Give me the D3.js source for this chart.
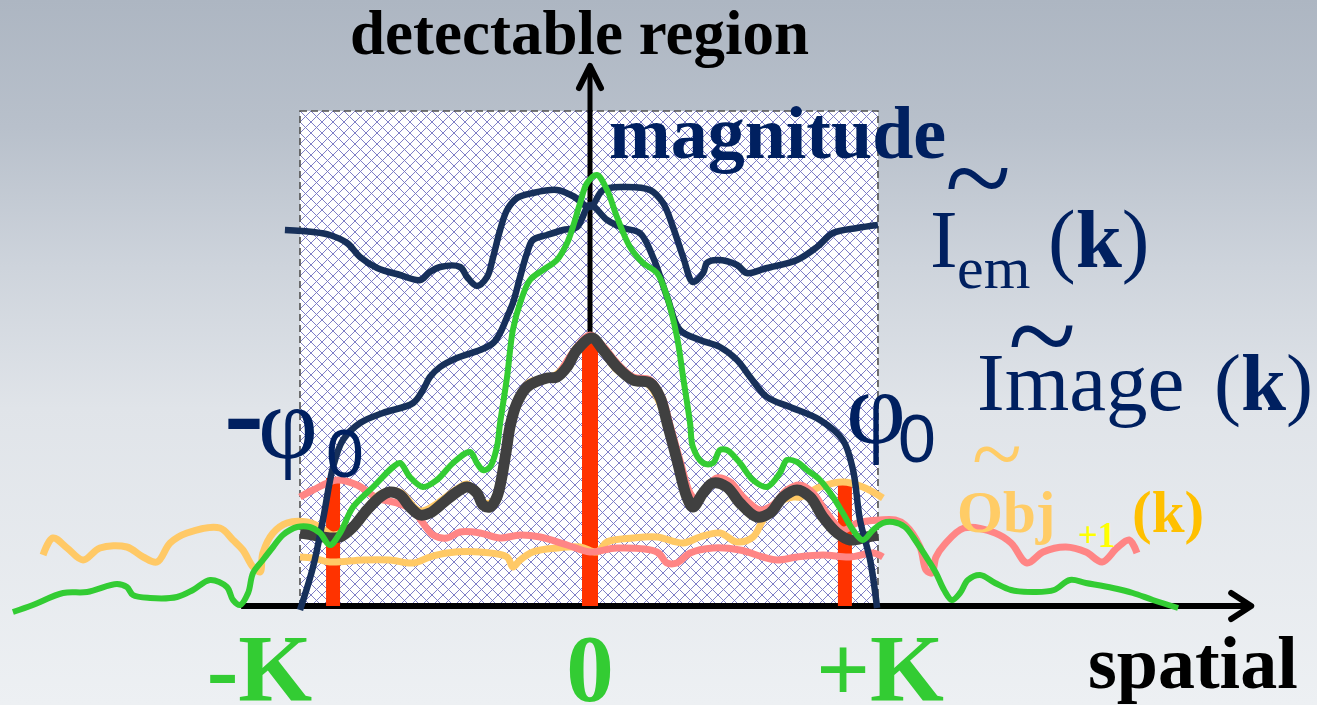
<!DOCTYPE html>
<html><head><meta charset="utf-8">
<script src="https://cdn.jsdelivr.net/npm/d3@7"></script>
<style>html,body{margin:0;padding:0;overflow:hidden;background:#e6e9ee}</style>
</head><body><svg id="c" width="1317" height="705"></svg>
<script>
// ---- data (spatial frequency in units of K = 100, magnitude 0..100) ----
const xTickValues = [-114, 0, 100];
const xTickLabels = ["-K", "0", "+K"];
const deltaPos = [-88.6, 0, 87.9];       // red delta peaks (-φ0, 0, φ0)
const deltaMag = [25.6, 53.2, 24.2];

const iEm = [[-105.2,75.2],[-95.5,74.8],[-89.7,74.2],[-83.8,72.6],[-79.3,69.8],[-73.4,67.6],[-65.5,66.2],[-58.6,65.2],[-55.2,66.8],[-51.7,67.8],[-44.8,67.8],[-42.4,65.8],[-39.0,64.0],[-35.5,65.8],[-33.4,69.8],[-31.0,75.2],[-28.6,79.2],[-25.2,81.6],[-19.7,82.6],[-11.4,83.2],[-5.9,82.0],[0,79.8],[4.5,83.2],[11.4,83.8],[20.7,83.2],[25.2,80.6],[28.6,75.8],[32.1,69.8],[35.5,64.8],[39.0,66.6],[40.3,68.6],[43.8,69.2],[50.7,68.2],[54.1,66.6],[61.0,67.6],[71.4,69.2],[78.3,71.8],[83.8,74.6],[92.1,75.6],[99.3,76.2]];

const imageK = [[-100,-0.8],[-95.5,7.8],[-92.1,17.2],[-88.6,27.8],[-85.2,33.2],[-79.3,36.6],[-71.4,38.6],[-61.0,40.6],[-57.6,43.2],[-55.2,45.8],[-51.7,47.8],[-45.9,49.6],[-37.9,51.2],[-33.4,52.6],[-31.0,54.6],[-28.6,57.8],[-26.6,60.6],[-24.1,65.8],[-21.7,70.6],[-19.7,73.2],[-14.8,74.2],[-9.3,75.2],[-4.5,75.8],[0,80.2],[5.9,77.2],[11.4,75.6],[17.2,74.6],[21.7,69.8],[26.6,61.8],[31.0,55.2],[37.9,53.2],[44.8,51.8],[50.7,49.2],[55.2,45.8],[61.0,41.8],[69.0,39.8],[79.3,37.2],[87.2,33.2],[90.7,27.2],[93.1,17.2],[96.6,9.2],[99.0,-0.4]];

const objGreen = [[-199.0,-1.2],[-192.1,0.2],[-181.7,2.6],[-173.4,2.8],[-163.1,4.4],[-159.7,3.8],[-157.6,2.2],[-151.7,1.6],[-142.4,1.8],[-136.9,3.2],[-131.0,5.2],[-125.2,3.8],[-123.1,1.2],[-120.7,0.2],[-117.9,2.6],[-116.2,6.6],[-112.8,9.2],[-109.3,11.8],[-105.9,14.2],[-101.0,15.8],[-96.6,15.8],[-93.1,14.6],[-89.7,12.2],[-86.2,14.6],[-81.7,19.8],[-74.8,23.8],[-67.9,27.8],[-65.5,28.6],[-62.1,25.8],[-57.6,23.8],[-52.8,25.2],[-47.2,28.6],[-41.4,30.8],[-39.0,28.6],[-36.9,27.2],[-34.5,27.8],[-32.1,31.8],[-31.0,36.6],[-28.6,45.8],[-26.6,55.2],[-24.1,60.6],[-20.7,65.2],[-16.2,67.2],[-11.4,69.2],[-7.9,72.6],[-5.9,75.8],[-3.4,80.6],[-1.0,84.6],[2.4,86.2],[5.9,83.2],[9.3,77.8],[13.8,71.8],[18.3,68.6],[23.1,66.6],[26.6,61.8],[30.0,53.8],[32.1,45.8],[34.5,36.6],[35.5,31.8],[39.0,28.6],[42.4,28.6],[44.8,31.2],[47.2,31.2],[51.7,28.6],[56.2,25.2],[61.0,23.8],[65.5,26.6],[67.9,29.2],[71.4,28.8],[74.8,27.2],[79.3,25.2],[83.8,21.8],[87.2,18.6],[90.7,15.2],[94.1,13.2],[97.6,15.2],[101.0,16.6],[104.5,16.8],[108.6,15.8],[112.8,12.6],[116.6,9.2],[119.3,6.6],[122.1,3.2],[124.8,1.2],[127.6,2.6],[130.3,5.2],[134.5,6.2],[139.7,4.6],[145.2,3.2],[153.4,2.8],[160.0,3.2],[165.5,5.2],[171.0,4.6],[180.3,3.6],[187.2,2.6],[194.1,1.2],[202.8,-0.4]];

const objOrangeA = [[-188.6,10.2],[-185.2,13.6],[-180.3,11.6],[-174.8,9.2],[-169.0,11.6],[-159.7,11.8],[-154.1,9.8],[-149.3,8.8],[-144.8,12.6],[-139.0,14.6],[-127.6,15.6],[-123.1,13.2],[-119.7,11.2],[-116.2,7.8],[-113.8,6.8],[-112.8,10.6],[-109.3,14.6],[-104.5,16.6],[-97.6,16.8],[-93.1,15.8],[-88.6,14.2],[-81.7,16.2],[-72.4,22.4],[-65.5,22.8],[-58.6,19.0],[-45.9,23.4],[-42.4,24.4],[-36.9,20.8],[-34.5,20.6],[-32.1,22.2],[-27.6,36.4],[-21.7,44.4],[-11.4,46.4],[-4.5,51.8],[0.7,54.0],[9.3,47.2],[20.7,44.0],[26.6,36.2]];

const objOrangeB = [[-100,9.8],[-95.5,9.6],[-89.7,8.8],[-78.3,9.2],[-69.0,9.2],[-61.0,8.6],[-55.2,9.8],[-49.3,10.6],[-37.9,10.8],[-28.6,9.8],[-26.6,7.8],[-24.1,9.2],[-19.7,10.8],[-11.4,11.6],[-3.4,11.8],[2.4,10.8],[5.9,12.8],[14.8,13.6],[23.1,13.8],[32.1,12.6],[37.9,13.8],[44.8,14.6],[50.7,12.8],[56.2,13.8],[59.7,17.2],[64.5,20.6],[70.0,21.8],[72.4,21.8],[79.3,23.8],[87.2,24.8],[94.1,23.8],[101.0,21.6]];

const objPinkA = [[-100,21.8],[-95.5,23.2],[-87.2,25.2],[-80.3,24.2],[-73.4,21.6],[-66.6,20.6],[-61.0,19.2],[-57.6,16.6],[-54.1,14.2],[-49.3,13.6],[-44.8,14.8],[-37.9,14.6],[-31.0,13.6],[-24.1,14.2],[-17.2,13.8],[-7.9,12.2],[0,10.8],[9.3,11.6],[23.1,10.8],[26.6,8.6],[30.0,8.6],[34.5,10.6],[42.4,11.6],[51.7,11.2],[59.7,9.8],[64.5,9.2],[71.4,9.8],[80.3,10.2],[89.7,9.8],[97.6,10.6],[101.0,9.8]];

const objPinkB = [[-10.3,46.8],[-4.5,51.8],[0,54.2],[4.5,52.0],[9.3,48.6],[14.8,45.8],[20.7,45.2],[24.8,41.8],[27.6,36.2],[31.0,29.2],[34.5,22.6],[36.9,21.2],[40.3,23.8],[43.8,25.6],[48.3,24.8],[52.8,21.8],[58.6,19.2],[63.1,20.2],[67.9,23.2],[72.4,24.2],[76.9,22.6],[81.7,18.6],[87.2,15.2],[92.1,16.6],[100,17.2],[105.2,17.2],[108.6,16.2],[113.8,11.8],[115.9,7.2],[117.9,6.6],[119.3,9.8],[122.1,12.2],[129.0,15.6],[139.7,14.6],[145.2,12.6],[150.7,8.6],[156.2,10.8],[164.1,11.8],[171.0,10.8],[176.6,8.8],[181.7,11.6],[185.9,13.2],[188.6,10.6]];

const recon = [[-100,14.6],[-95.5,14.2],[-89.7,13.6],[-86.2,13.8],[-81.7,15.8],[-76.9,19.2],[-72.4,21.8],[-69.0,22.8],[-65.5,22.2],[-62.1,19.8],[-58.6,18.2],[-55.2,18.6],[-50.7,20.6],[-45.9,22.8],[-42.4,23.8],[-39.0,22.6],[-36.9,20.2],[-34.5,19.8],[-32.1,21.8],[-29.0,30.6],[-27.6,35.8],[-25.2,40.6],[-21.7,43.8],[-14.8,45.6],[-11.4,45.8],[-7.9,47.8],[-4.5,51.2],[0.7,53.6],[4.5,51.2],[9.3,47.8],[14.8,45.2],[20.7,44.6],[24.1,41.8],[26.6,36.6],[30.0,29.2],[33.4,21.8],[35.5,19.8],[39.0,22.6],[42.4,24.6],[47.2,23.8],[51.7,20.6],[57.6,17.8],[62.1,18.6],[66.6,21.8],[71.4,23.2],[75.9,21.8],[80.3,17.8],[85.2,14.6],[89.7,13.2],[95.5,13.8],[99.3,14.2]];

// ---- drawing ----
const svg = d3.select("#c");
const W = 1317, H = 705;
const x = d3.scaleLinear().domain([-100, 100]).range([300, 880]);
const y = d3.scaleLinear().domain([0, 100]).range([606, 106]);

const defs = svg.append("defs");
const bg = defs.append("linearGradient").attr("id","bg").attr("x1",0).attr("y1",0).attr("x2",0).attr("y2",1);
[[0,"#adb6c2"],[0.18,"#b8c0cb"],[0.38,"#ced4dc"],[0.58,"#e0e4e9"],[1,"#edf0f3"]].forEach(s=>bg.append("stop").attr("offset",s[0]).attr("stop-color",s[1]));
const T = 11;
const pat = defs.append("pattern").attr("id","hatch").attr("patternUnits","userSpaceOnUse")
  .attr("width",T).attr("height",T).attr("x",x(-100)).attr("y",y(99));
pat.append("rect").attr("width",T).attr("height",T).attr("fill","#ffffff");
pat.append("path").attr("d",`M0,0L${T},${T}M${T},0L0,${T}M${-T/2},${T/2}L${T/2},${-T/2}M${T/2},${1.5*T}L${1.5*T},${T/2}M${-T/2},${T/2}L${T/2},${1.5*T}M${T/2},${-T/2}L${1.5*T},${T/2}`)
  .attr("stroke","#7878c4").attr("stroke-width",0.95).attr("fill","none");

svg.append("rect").attr("width",W).attr("height",H).attr("fill","url(#bg)");

// detectable region
svg.append("rect").attr("x",x(-100)).attr("y",y(99)).attr("width",x(99.3)-x(-100)).attr("height",y(0)-y(99))
  .attr("fill","url(#hatch)").attr("stroke","#505050").attr("stroke-width",1.6).attr("stroke-dasharray","7,4");

// axes
const ax = svg.append("g").attr("stroke","#000").attr("fill","none").attr("stroke-linecap","round").attr("stroke-linejoin","round");
ax.append("line").attr("x1",x(0)).attr("x2",x(0)).attr("y1",y(0)).attr("y2",y(108)).attr("stroke-width",5);
ax.append("path").attr("d",`M${x(0)-11},${y(108)+22}L${x(0)},${y(108)}L${x(0)+11},${y(108)+22}`).attr("stroke-width",6);
ax.append("line").attr("x1",x(-120.3)).attr("x2",x(228)).attr("y1",y(0)).attr("y2",y(0)).attr("stroke-width",6).attr("stroke-linecap","butt");
ax.append("path").attr("d",`M${x(228)-20},${y(0)-13}L${x(228)},${y(0)}L${x(228)-20},${y(0)+13}`).attr("stroke-width",6);

// delta peaks
svg.selectAll("rect.delta").data(deltaPos).enter().append("rect").attr("class","delta")
  .attr("x",(d,i)=>x(d)-(i===1?8:7)).attr("width",(d,i)=>i===1?16:14)
  .attr("y",(d,i)=>y(deltaMag[i])).attr("height",(d,i)=>y(0)-y(deltaMag[i])).attr("fill","#ff3300");

const line = d3.line().x(d=>x(d[0])).y(d=>y(d[1])).curve(d3.curveCatmullRom.alpha(0.5));
function draw(data, color, w){
  svg.append("path").attr("d",line(data)).attr("fill","none").attr("stroke",color).attr("stroke-width",w)
    .attr("stroke-linejoin","round").attr("stroke-linecap","butt");
}
draw(objOrangeB, "#ffc966", 7);
draw(objPinkA, "#ff8585", 7);
draw(objOrangeA, "#ffc966", 7);
draw(objPinkB, "#ff8585", 7);
draw(recon, "#404040", 11);
draw(imageK, "#17305a", 6.5);
draw(iEm, "#17305a", 6.5);
draw(objGreen, "#33cc33", 6);

// texts
const serif = "'Liberation Serif','Times New Roman',serif";
function txt(s, px, py, size, color, weight, anchor){
  return svg.append("text").attr("x",px).attr("y",py).attr("font-family",serif).attr("font-size",size)
    .attr("fill",color).attr("font-weight",weight||"normal").attr("text-anchor",anchor||"start").text(s);
}
txt("detectable region", 350, 54, 63, "#000", "bold");
txt("magnitude", 609, 158, 74, "#002060", "bold");
txt("spatial", 1088, 688, 74, "#000", "bold");
svg.selectAll("text.tick").data(xTickValues).enter().append("text").attr("class","tick")
  .attr("x",d=>x(d)).attr("y",701).attr("text-anchor","middle").attr("font-family",serif)
  .attr("font-size",95).attr("font-weight","bold").attr("fill","#33cc33").text((d,i)=>xTickLabels[i]);

// I_em(k)
txt("~", 945, 219, 122, "#002060");
txt("I", 930, 267, 83, "#002060");
txt("em", 957, 288, 60, "#002060");
const t1 = txt("(", 1048, 267, 83, "#002060");
t1.append("tspan").attr("font-weight","bold").text("k");
t1.append("tspan").text(")");
// Image(k)
txt("~", 1008, 378, 126, "#002060");
txt("Image", 977, 410, 83, "#002060");
const t2 = txt("(", 1214, 410, 81, "#002060");
t2.append("tspan").attr("font-weight","bold").text("k");
t2.append("tspan").text(")");
// phi labels
txt("-", 224, 452, 120, "#002060", "bold");
txt("φ", 258, 458, 104, "#002060");
svg.append("text").attr("x",326).attr("y",477).attr("font-family","'Liberation Sans',sans-serif").attr("font-size",68).attr("fill","#002060").text("0");
txt("φ", 846, 443, 104, "#002060");
svg.append("text").attr("x",898).attr("y",462).attr("font-family","'Liberation Sans',sans-serif").attr("font-size",68).attr("fill","#002060").text("0");
// Obj_{+1}(k)
txt("~", 972, 484, 92, "#ffcc66");
txt("Obj", 957, 532, 59, "#ffcc66", "bold");
txt("+1", 1078, 547, 35, "#ffff00", "bold");
txt("(k)", 1132, 532, 59, "#ffc000", "bold");
</script></body></html>
